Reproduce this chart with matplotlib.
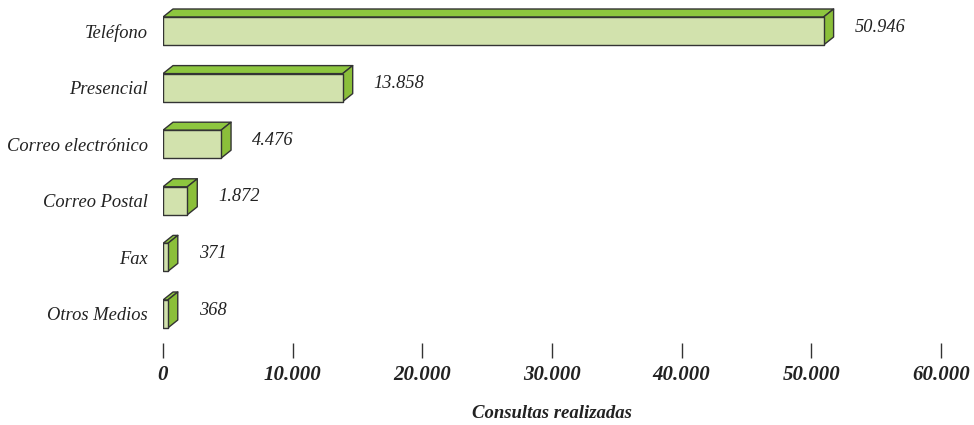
import matplotlib.pyplot as plt
from matplotlib.patches import Polygon

categories = ["Teléfono", "Presencial", "Correo electrónico", "Correo Postal", "Fax", "Otros Medios"]
values = [50946, 13858, 4476, 1872, 371, 368]
value_labels = ["50.946", "13.858", "4.476", "1.872", "371", "368"]
xticks = [0, 10000, 20000, 30000, 40000, 50000, 60000]
xtick_labels = ["0", "10.000", "20.000", "30.000", "40.000", "50.000", "60.000"]

W, H = 974, 425
fig = plt.figure(figsize=(W / 100, H / 100), dpi=100)
# axes placed in pixels: x 163..941, y 0..343 (from top)
ax_l, ax_r, ax_t, ax_b = 163, 941, 0, 343
ax = fig.add_axes([ax_l / W, 1 - ax_b / H, (ax_r - ax_l) / W, (ax_b - ax_t) / H])

serif = ["Liberation Serif", "DejaVu Serif"]

xmax = 60000
step = 56.6  # px between bars
ytop = -31 / step
ybot = (343 - 31) / step
ax.set_xlim(0, xmax)
ax.set_ylim(ybot, ytop)

px_x = xmax / (ax_r - ax_l)   # data units per pixel (x)
px_y = 1 / step               # data units per pixel (y)
dx = 10 * px_x
dy = 8 * px_y
h = 28 * px_y

front_c = "#d2e2ad"
top_c = "#8dc63f"
side_c = "#8bbf3a"
edge_c = "#333333"

for i, v in enumerate(values):
    y0, y1 = i - h / 2, i + h / 2  # y0 is upper edge (inverted axis)
    front = [(0, y0), (v, y0), (v, y1), (0, y1)]
    top = [(0, y0), (dx, y0 - dy), (v + dx, y0 - dy), (v, y0)]
    side = [(v, y0), (v + dx, y0 - dy), (v + dx, y1 - dy), (v, y1)]
    for pts, c in [(top, top_c), (side, side_c), (front, front_c)]:
        ax.add_patch(Polygon(pts, closed=True, facecolor=c, edgecolor=edge_c,
                             linewidth=1.0, joinstyle="round"))
    ax.text(v + dx + 21 * px_x, i - 4 * px_y, value_labels[i], ha="left", va="center",
            fontsize=13.2, style="italic", family=serif, color="#222222")

ax.set_yticks(range(len(categories)))
ax.set_yticklabels(categories, family=serif, style="italic", fontsize=13.3, color="#222222")
ax.tick_params(axis="y", length=0, pad=11)

ax.set_xticks(xticks)
ax.set_xticklabels(xtick_labels, family=serif, style="italic", weight="bold",
                   fontsize=15, color="#222222")
ax.tick_params(axis="x", length=11, width=1, color="#333333", pad=5)

for s in ax.spines.values():
    s.set_visible(False)

fig.text((ax_l + ax_r) / 2 / W, 1 - 413 / H, "Consultas realizadas", ha="center", va="center",
         family=serif, style="italic", weight="bold", fontsize=13.5, color="#222222")

fig.savefig("out.png", dpi=100)
